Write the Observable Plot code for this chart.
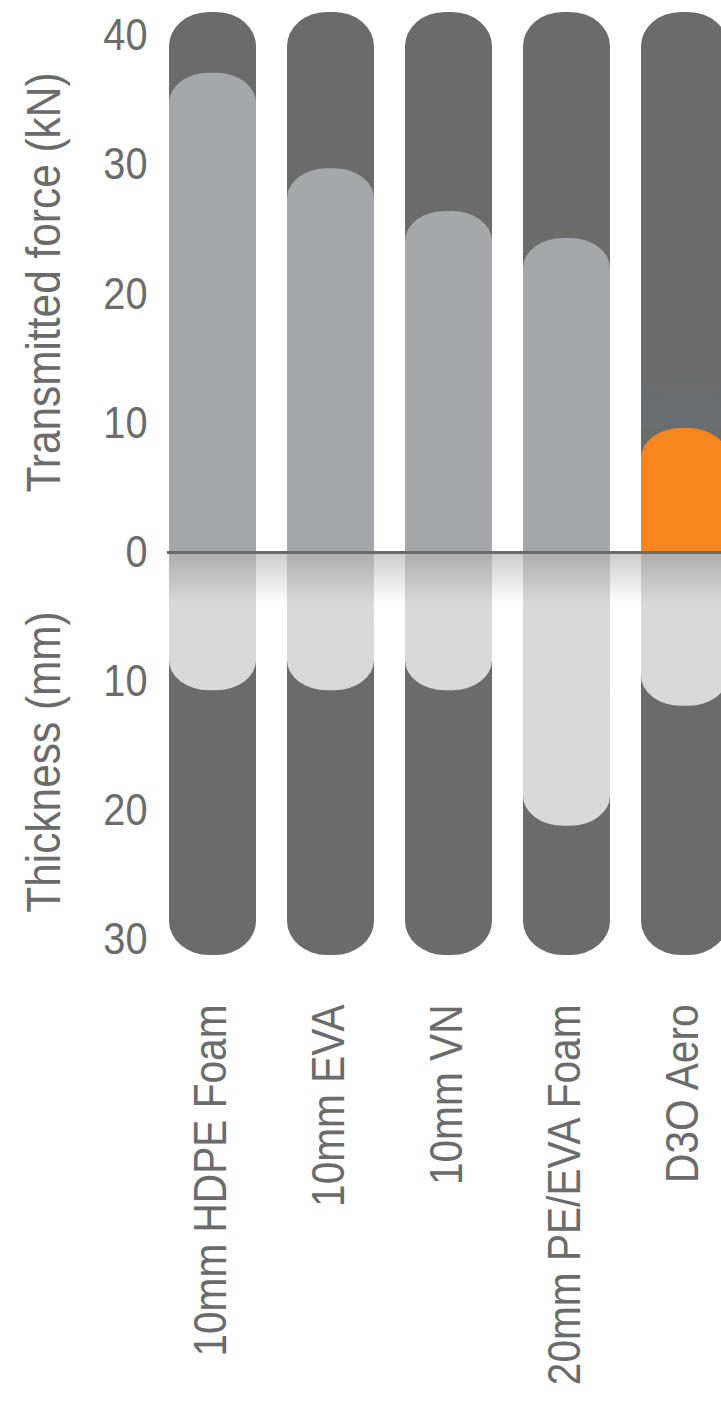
<!DOCTYPE html>
<html><head><meta charset="utf-8">
<script src="https://cdn.jsdelivr.net/npm/d3@7"></script>
<script src="https://cdn.jsdelivr.net/npm/@observablehq/plot@0.6"></script>
<style>
html,body{margin:0;padding:0;background:#fff;overflow:hidden;}
#chart svg{overflow:hidden;}
</style></head><body><div id="chart"></div>
<script>
// ---- data ----
const categories = ["10mm HDPE Foam", "10mm EVA", "10mm VN", "20mm PE/EVA Foam", "D3O Aero"];
const force = [37.1, 29.7, 26.4, 24.3, 9.6];          // Transmitted force (kN)
const thickness = [10.7, 10.7, 10.7, 21.2, 11.9];     // Thickness (mm)
const highlight = [false, false, false, false, true];
const forceTicks = [0, 10, 20, 30, 40];
const thicknessTicks = [10, 20, 30];
const trackTop = 41.8;      // kN extent of the background track
const trackBottom = 31.2;   // mm extent of the background track
const titles = ["Transmitted force (kN)", "Thickness (mm)"];

// ---- styling ----
const font = "'Liberation Sans', Arial, Helvetica, sans-serif";
const squeeze = 0.883;
const C = {track: "#6b6b6b", force: "#a5a7aa", thick: "#d9d9d9", hi: "#f7861e", text: "#6b6b6b", zero: "#6a6a6a"};

const rows = categories.map((c, i) => ({
  cat: c, force: force[i], thick: thickness[i], hi: highlight[i],
  fill: highlight[i] ? C.hi : C.force
}));
const tickValues = [...forceTicks, ...thicknessTicks.map(t => -t)];

const defsMark = () => {
  const defs = d3.create("svg:defs");
  const lg = defs.append("linearGradient").attr("id", "zfade").attr("x1", 0).attr("y1", 0).attr("x2", 0).attr("y2", 1);
  lg.append("stop").attr("offset", 0).attr("stop-color", "#000").attr("stop-opacity", 0.2);
  lg.append("stop").attr("offset", 1).attr("stop-color", "#000").attr("stop-opacity", 0);
  const gl = defs.append("radialGradient").attr("id", "glow").attr("cx", 0.5).attr("cy", 1).attr("r", 0.9);
  gl.append("stop").attr("offset", 0).attr("stop-color", "#5a7890").attr("stop-opacity", 0.22);
  gl.append("stop").attr("offset", 0.6).attr("stop-color", "#5a7890").attr("stop-opacity", 0.14);
  gl.append("stop").attr("offset", 1).attr("stop-color", "#5a7890").attr("stop-opacity", 0);
  return defs.node();
};

const chart = Plot.plot({
  width: 721, height: 1401,
  marginLeft: 167, marginRight: 0, marginTop: 12, marginBottom: 446,
  style: {fontFamily: font, background: "#fff", color: C.text, overflow: "hidden"},
  x: {domain: categories, range: [137.5, 759], padding: 0.26, label: null},
  y: {domain: [-trackBottom, trackTop], label: null},
  color: {type: "identity"},
  marks: [
    defsMark,
    Plot.barY(rows, {x: "cat", y1: -trackBottom, y2: trackTop, fill: C.track, rx: 40, ry: 34}),
    Plot.barY(rows.filter(d => d.hi), {x: "cat", y1: "force", y2: d => d.force + 4.5, fill: "url(#glow)"}),
    Plot.barY(rows, {x: "cat", y1: 0, y2: "force", fill: "fill", rx: 40, ry: 30}),
    Plot.barY(rows, {x: "cat", y1: 0, y2: d => d.force / 2, fill: "fill"}),
    Plot.barY(rows, {x: "cat", y1: d => -d.thick, y2: 0, fill: C.thick, rx: 40, ry: 30}),
    Plot.barY(rows, {x: "cat", y1: d => -d.thick / 2, y2: 0, fill: C.thick}),
    Plot.rectY([0], {x1: () => categories[0], x2: () => categories[categories.length - 1], y1: 0, y2: -4, fill: "url(#zfade)", insetLeft: 0, insetRight: -200}),
    Plot.ruleY([0], {stroke: C.zero, strokeWidth: 3}),
    Plot.axisY({ticks: tickValues, tickFormat: d => Math.abs(d), tickSize: 0, tickPadding: 20, fontSize: 45, label: null}),
    Plot.axisX({tickRotate: -90, tickSize: 0, tickPadding: 49, fontSize: 46, label: null, dx: -2}),
    Plot.text([titles[0]], {text: d => d, y: trackTop / 2, frameAnchor: "left", textAnchor: "middle", dx: -123, rotate: -90, fontSize: 48, fill: C.text}),
    Plot.text([titles[1]], {text: d => d, y: -trackBottom / 2, frameAnchor: "left", textAnchor: "middle", dx: -123, dy: 8, rotate: -90, fontSize: 48, fill: C.text})
  ]
});
document.getElementById("chart").appendChild(chart);
// condense the glyphs to mimic the narrow typeface of the original
d3.select(chart).selectAll("text").each(function () {
  const len = this.getComputedTextLength();
  if (len > 0) {
    this.setAttribute("textLength", (len * squeeze).toFixed(1));
    this.setAttribute("lengthAdjust", "spacingAndGlyphs");
  }
});
</script></body></html>
